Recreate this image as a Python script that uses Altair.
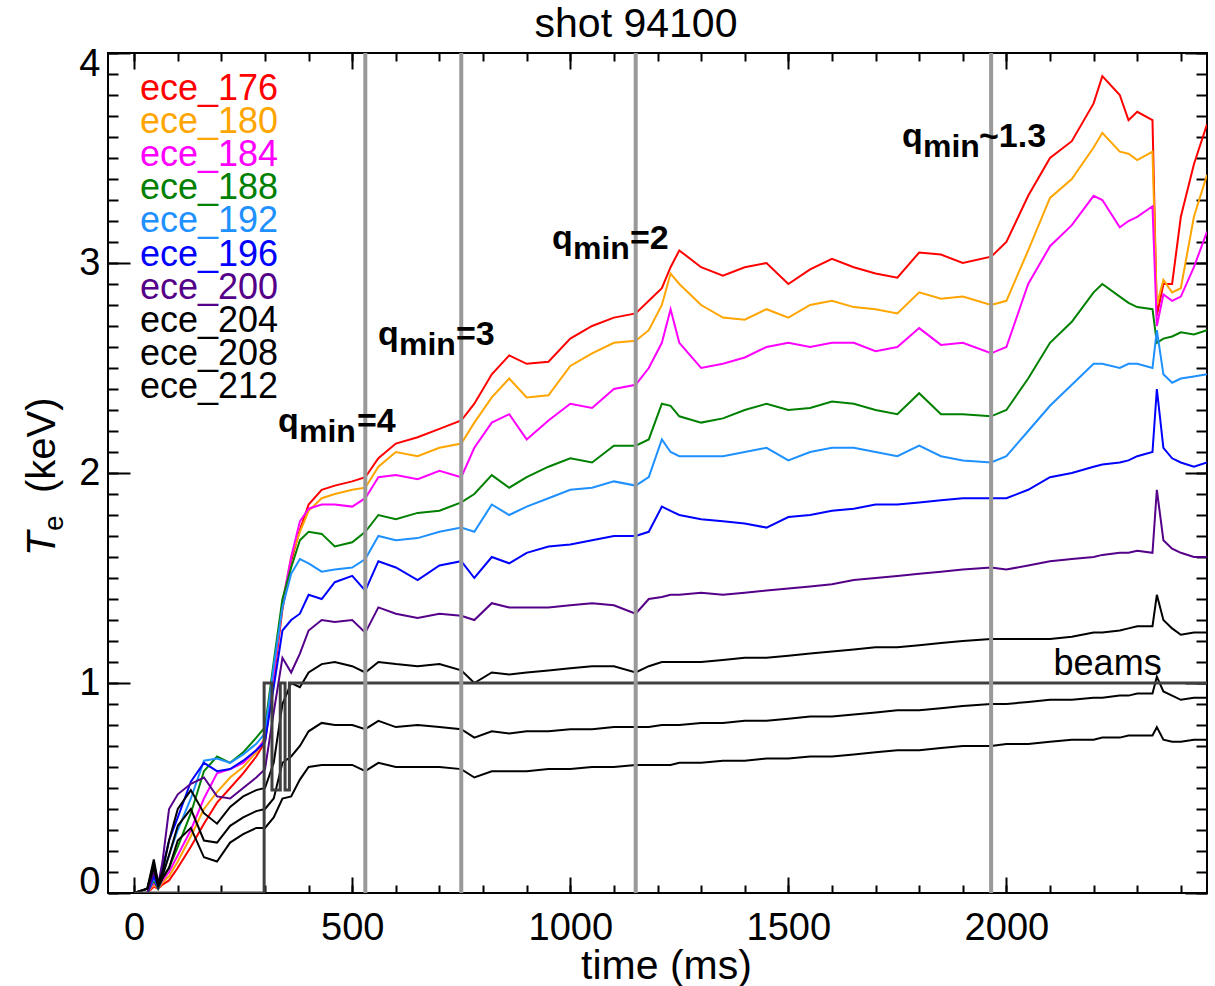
import altair as alt
import pandas as pd

FONT = "Liberation Sans"

# ---------------- data ----------------
T = [0, 30, 45, 55, 65, 80, 100, 130, 160, 190, 220, 250, 280, 300, 320, 340, 360, 380, 400, 430,
     460, 500, 530, 560, 600, 650, 700, 750, 780, 820, 860, 900, 950, 1000, 1050, 1100, 1150, 1180,
     1210, 1230, 1250, 1300, 1350, 1400, 1450, 1500, 1550, 1600, 1650, 1700, 1750, 1800, 1850, 1900,
     1965, 2000, 2050, 2100, 2150, 2200, 2220, 2260, 2280, 2300, 2335, 2345, 2360, 2380, 2400, 2430, 2460]

ece_176 = [0, 0.00, 0.03, 0.02, 0.04, 0.06, 0.12, 0.22, 0.33, 0.43,
           0.50, 0.57, 0.65, 0.72, 1.02, 1.35, 1.58, 1.73, 1.85, 1.92,
           1.94, 1.96, 1.98, 2.07, 2.14, 2.17, 2.21, 2.25, 2.33, 2.47,
           2.56, 2.52, 2.53, 2.64, 2.70, 2.74, 2.76, 2.82, 2.88, 2.98,
           3.06, 2.98, 2.94, 2.98, 3.00, 2.90, 2.97, 3.02, 2.98, 2.95,
           2.93, 3.05, 3.04, 3.00, 3.03, 3.10, 3.32, 3.50, 3.58, 3.76,
           3.89, 3.80, 3.68, 3.72, 3.68, 2.75, 2.90, 2.90, 3.22, 3.47, 3.66]
ece_180 = [0, 0.00, 0.04, 0.02, 0.05, 0.08, 0.15, 0.27, 0.40, 0.48,
           0.55, 0.60, 0.67, 0.74, 1.05, 1.38, 1.60, 1.72, 1.82, 1.88,
           1.90, 1.92, 1.93, 2.03, 2.10, 2.08, 2.12, 2.14, 2.24, 2.36,
           2.45, 2.36, 2.37, 2.51, 2.57, 2.62, 2.63, 2.68, 2.80, 2.95,
           2.90, 2.80, 2.74, 2.73, 2.78, 2.74, 2.80, 2.82, 2.79, 2.78,
           2.76, 2.86, 2.83, 2.84, 2.80, 2.82, 3.06, 3.31, 3.40, 3.55,
           3.62, 3.53, 3.52, 3.49, 3.53, 2.80, 2.92, 2.86, 2.88, 3.22, 3.42]
ece_184 = [0, 0.00, 0.05, 0.02, 0.06, 0.10, 0.18, 0.30, 0.45, 0.57,
           0.59, 0.62, 0.68, 0.73, 1.05, 1.38, 1.60, 1.77, 1.83, 1.85,
           1.85, 1.84, 1.88, 1.98, 1.99, 1.97, 2.01, 1.98, 2.12, 2.24,
           2.28, 2.16, 2.25, 2.33, 2.31, 2.40, 2.42, 2.50, 2.62, 2.78,
           2.62, 2.50, 2.52, 2.55, 2.60, 2.62, 2.60, 2.62, 2.62, 2.58,
           2.60, 2.69, 2.61, 2.62, 2.57, 2.60, 2.90, 3.08, 3.18, 3.32,
           3.30, 3.17, 3.20, 3.22, 3.27, 2.70, 2.85, 2.82, 2.84, 2.98, 3.15]
ece_188 = [0, 0.00, 0.06, 0.02, 0.07, 0.12, 0.22, 0.38, 0.58, 0.65,
           0.62, 0.67, 0.74, 0.79, 1.10, 1.40, 1.55, 1.68, 1.72, 1.71,
           1.65, 1.67, 1.72, 1.80, 1.78, 1.81, 1.82, 1.86, 1.90, 1.99,
           1.93, 1.98, 2.03, 2.07, 2.05, 2.13, 2.13, 2.16, 2.33, 2.32,
           2.27, 2.24, 2.26, 2.30, 2.33, 2.30, 2.31, 2.34, 2.33, 2.30,
           2.28, 2.38, 2.28, 2.28, 2.27, 2.30, 2.45, 2.62, 2.72, 2.86,
           2.90, 2.84, 2.81, 2.79, 2.78, 2.62, 2.64, 2.65, 2.67, 2.66, 2.68]
ece_192 = [0, 0.00, 0.07, 0.03, 0.09, 0.18, 0.30, 0.45, 0.63, 0.64,
           0.62, 0.66, 0.71, 0.76, 1.08, 1.36, 1.52, 1.59, 1.57, 1.53,
           1.54, 1.55, 1.59, 1.70, 1.68, 1.69, 1.72, 1.74, 1.72, 1.85,
           1.80, 1.84, 1.88, 1.92, 1.93, 1.96, 1.94, 1.98, 2.16, 2.10,
           2.08, 2.08, 2.08, 2.10, 2.12, 2.06, 2.10, 2.12, 2.12, 2.10,
           2.08, 2.13, 2.08, 2.06, 2.05, 2.08, 2.20, 2.32, 2.42, 2.52,
           2.52, 2.50, 2.52, 2.52, 2.50, 2.68, 2.47, 2.43, 2.45, 2.46, 2.47]
ece_196 = [0, 0.00, 0.08, 0.03, 0.12, 0.25, 0.36, 0.53, 0.62, 0.58,
           0.59, 0.63, 0.68, 0.72, 0.98, 1.25, 1.30, 1.33, 1.42, 1.40,
           1.48, 1.51, 1.44, 1.58, 1.55, 1.49, 1.56, 1.58, 1.50, 1.60,
           1.57, 1.62, 1.65, 1.66, 1.68, 1.70, 1.70, 1.72, 1.84, 1.82,
           1.80, 1.78, 1.77, 1.76, 1.74, 1.79, 1.80, 1.82, 1.83, 1.85,
           1.85, 1.86, 1.87, 1.88, 1.88, 1.88, 1.92, 1.98, 2.00, 2.03,
           2.04, 2.05, 2.06, 2.08, 2.10, 2.40, 2.12, 2.07, 2.05, 2.03, 2.05]
ece_200 = [0, 0.00, 0.10, 0.04, 0.15, 0.40, 0.47, 0.52, 0.55, 0.46,
           0.45, 0.50, 0.55, 0.59, 0.86, 1.12, 1.05, 1.14, 1.25, 1.30,
           1.29, 1.30, 1.24, 1.36, 1.33, 1.31, 1.33, 1.32, 1.30, 1.38,
           1.36, 1.36, 1.36, 1.37, 1.38, 1.37, 1.33, 1.40, 1.41, 1.42,
           1.42, 1.43, 1.42, 1.43, 1.44, 1.45, 1.46, 1.47, 1.49, 1.50,
           1.51, 1.52, 1.53, 1.54, 1.55, 1.54, 1.56, 1.58, 1.59, 1.60,
           1.61, 1.62, 1.62, 1.63, 1.62, 1.92, 1.68, 1.64, 1.62, 1.60, 1.60]
ece_204 = [0, 0.02, 0.16, 0.05, 0.10, 0.25, 0.40, 0.49, 0.38, 0.33,
           0.41, 0.46, 0.49, 0.50, 0.62, 0.90, 1.00, 0.98, 1.05, 1.09,
           1.10, 1.08, 1.05, 1.10, 1.09, 1.08, 1.09, 1.06, 1.00, 1.05,
           1.04, 1.05, 1.06, 1.07, 1.08, 1.08, 1.05, 1.08, 1.10, 1.10,
           1.10, 1.10, 1.11, 1.12, 1.12, 1.13, 1.14, 1.15, 1.16, 1.17,
           1.17, 1.18, 1.19, 1.20, 1.21, 1.21, 1.21, 1.21, 1.22, 1.24,
           1.24, 1.25, 1.26, 1.27, 1.27, 1.42, 1.30, 1.26, 1.23, 1.24, 1.24]
ece_208 = [0, 0.02, 0.14, 0.04, 0.08, 0.18, 0.32, 0.40, 0.25, 0.24,
           0.32, 0.36, 0.39, 0.40, 0.45, 0.62, 0.65, 0.70, 0.77, 0.81,
           0.80, 0.80, 0.78, 0.82, 0.79, 0.80, 0.79, 0.78, 0.74, 0.77,
           0.76, 0.77, 0.77, 0.78, 0.78, 0.79, 0.79, 0.79, 0.80, 0.80,
           0.80, 0.81, 0.81, 0.82, 0.82, 0.83, 0.84, 0.84, 0.85, 0.86,
           0.87, 0.87, 0.88, 0.89, 0.90, 0.90, 0.91, 0.92, 0.92, 0.93,
           0.93, 0.94, 0.94, 0.95, 0.95, 1.03, 0.96, 0.94, 0.92, 0.93, 0.93]
ece_212 = [0, 0.02, 0.12, 0.03, 0.07, 0.12, 0.25, 0.31, 0.17, 0.15,
           0.24, 0.28, 0.31, 0.31, 0.36, 0.45, 0.46, 0.54, 0.60, 0.61,
           0.61, 0.61, 0.58, 0.62, 0.60, 0.60, 0.60, 0.59, 0.55, 0.58,
           0.58, 0.58, 0.59, 0.59, 0.60, 0.60, 0.61, 0.61, 0.61, 0.61,
           0.62, 0.62, 0.63, 0.63, 0.64, 0.64, 0.65, 0.65, 0.66, 0.67,
           0.68, 0.68, 0.69, 0.70, 0.70, 0.71, 0.71, 0.72, 0.73, 0.73,
           0.74, 0.74, 0.75, 0.75, 0.75, 0.79, 0.73, 0.72, 0.72, 0.73, 0.73]

channels = ["ece_176", "ece_180", "ece_184", "ece_188", "ece_192",
            "ece_196", "ece_200", "ece_204", "ece_208", "ece_212"]
series = [ece_176, ece_180, ece_184, ece_188, ece_192,
          ece_196, ece_200, ece_204, ece_208, ece_212]
colors = ["#FF0000", "#FFA500", "#FF00FF", "#008000", "#1E90FF",
          "#0000FF", "#550088", "#000000", "#000000", "#000000"]

beam_t = [0, 298, 298, 316, 316, 335, 335, 346, 346, 356, 356, 2460]
beam_v = [0, 0, 1, 1, 0.49, 0.49, 1, 1, 0.49, 0.49, 1, 1]

qmin_t = [530, 750, 1150, 1965]

# annotation pieces (text, pixel position inside plot, font size)
ann_txt = ["q", "min", "=4", "q", "min", "=3", "q", "min", "=2", "q", "min", "~1.3"]
ann_x = [170, 191, 249, 270, 291, 348, 444, 465, 522, 794, 815, 871]
ann_y = [379, 389, 379, 292, 302, 292, 196, 206, 196, 94, 104, 94]
ann_fs = [34, 32, 34] * 4

legend_y = [47 + 33.1 * i for i in range(10)]

# ---------------- tables ----------------
rows = []
for name, vals in zip(channels, series):
    assert len(vals) == len(T), name
    for i, (t, v) in enumerate(zip(T, vals)):
        rows.append({"ch": name, "t": t, "v": v, "i": i})
df = pd.DataFrame(rows)
beam_df = pd.DataFrame({"t": beam_t, "v": beam_v, "i": list(range(len(beam_t)))})
q_df = pd.DataFrame({"t": qmin_t})
ann_df = pd.DataFrame({"txt": ann_txt, "px": ann_x, "py": ann_y, "fs": ann_fs})
leg_df = pd.DataFrame({"ch": channels, "py": legend_y})
one = pd.DataFrame({"k": [0]})

W, H = 1099, 840
xscale = alt.Scale(domain=[-60, 2460], nice=False, zero=False)
yscale = alt.Scale(domain=[0, 4], nice=False, zero=False)
cscale = alt.Scale(domain=channels, range=colors)

xmaj = [0, 500, 1000, 1500, 2000]
xmin = list(range(0, 2401, 100))
ymaj = [0, 1, 2, 3, 4]
ymin = [round(0.1 * i, 1) for i in range(41)]


def axis(orient, values, size, **kw):
    return alt.Axis(orient=orient, values=values, tickSize=size, offset=-size,
                    domain=False, grid=False, ticks=True, tickColor="black",
                    tickWidth=2, **kw)


x_bot_major = axis("bottom", xmaj, 16, labels=True, format="d", labelFont=FONT, labelFontSize=38,
                   labelColor="black", labelPadding=16, labelFlush=False,
                   title="time (ms)", titleFont=FONT, titleFontSize=41,
                   titleFontWeight="normal", titleColor="black", titleX=558, titleY=101,
                   titleAlign="center", titleBaseline="alphabetic")
x_bot_minor = axis("bottom", xmin, 8, labels=False, title=None)
x_top_major = axis("top", xmaj, 16, labels=False, title=None)
x_top_minor = axis("top", xmin, 8, labels=False, title=None)
y_left_major = axis("left", ymaj, 22, labels=True, format="d", labelFont=FONT, labelFontSize=38,
                    labelColor="black", labelPadding=8, labelFlush=True,
                    labelFlushOffset=8, title=None)
y_left_minor = axis("left", ymin, 10, labels=False, title=None)
y_right_major = axis("right", ymaj, 22, labels=False, title=None)
y_right_minor = axis("right", ymin, 11, labels=False, title=None)

traces = alt.Chart(df).mark_line(strokeWidth=2, clip=True).encode(
    x=alt.X("t:Q", scale=xscale, axis=x_bot_major),
    y=alt.Y("v:Q", scale=yscale, axis=y_left_major),
    color=alt.Color("ch:N", scale=cscale, legend=None),
    order=alt.Order("i:Q"),
)

beams = alt.Chart(beam_df).mark_line(color="#404040", strokeWidth=3, clip=True).encode(
    x=alt.X("t:Q", scale=xscale, axis=x_bot_minor),
    y=alt.Y("v:Q", scale=yscale, axis=y_left_minor),
    order=alt.Order("i:Q"),
)

rules = alt.Chart(q_df).mark_rule(color="#999999", strokeWidth=4).encode(
    x=alt.X("t:Q", scale=xscale, axis=None),
)

carrier = alt.Chart(beam_df).mark_point(opacity=0).encode(
    x=alt.X("t:Q", scale=xscale, axis=x_top_major),
    y=alt.Y("v:Q", scale=yscale, axis=y_right_major),
)

beams_lbl = alt.Chart(pd.DataFrame({"t": [2356], "v": [1.038], "txt": ["beams"]})).mark_text(
    align="right", baseline="alphabetic", font=FONT, fontSize=36, color="black"
).encode(
    x=alt.X("t:Q", scale=xscale, axis=x_top_minor),
    y=alt.Y("v:Q", scale=yscale, axis=y_right_minor),
    text="txt:N",
)

ann = alt.Chart(ann_df).mark_text(
    align="left", baseline="alphabetic", font=FONT, fontWeight="bold", color="black"
).encode(
    x=alt.X("px:Q", scale=None, axis=None),
    y=alt.Y("py:Q", scale=None, axis=None),
    size=alt.Size("fs:Q", scale=None, legend=None),
    text="txt:N",
)

legend = alt.Chart(leg_df).mark_text(
    align="left", baseline="alphabetic", font=FONT, fontSize=36
).encode(
    x=alt.value(32),
    y=alt.Y("py:Q", scale=None, axis=None),
    color=alt.Color("ch:N", scale=cscale, legend=None),
    text="ch:N",
)

yt1 = alt.Chart(one).mark_text(text="T", angle=270, align="left", baseline="alphabetic",
                               font=FONT, fontStyle="italic", fontSize=40, color="black"
                               ).encode(x=alt.value(-53), y=alt.value(503))
yt2 = alt.Chart(one).mark_text(text="e", angle=270, align="left", baseline="alphabetic",
                               font=FONT, fontSize=28, color="black"
                               ).encode(x=alt.value(-45), y=alt.value(478))
yt3 = alt.Chart(one).mark_text(text="(keV)", angle=270, align="left", baseline="alphabetic",
                               font=FONT, fontSize=40, color="black"
                               ).encode(x=alt.value(-53), y=alt.value(440))
title = alt.Chart(one).mark_text(text="shot 94100", align="center", baseline="alphabetic",
                                 font=FONT, fontSize=41, color="black"
                                 ).encode(x=alt.value(528), y=alt.value(-16))

chart = alt.layer(
    traces, beams, rules, carrier, beams_lbl, ann, legend, yt1, yt2, yt3, title
).resolve_axis(x="independent", y="independent").properties(
    width=W, height=H,
    autosize=alt.AutoSizeParams(type="none"),
    padding={"left": 108, "top": 53, "right": 8, "bottom": 93},
).configure_view(stroke="black", strokeWidth=2)

chart.save("out.html", embed_options={"renderer": "svg", "actions": False})
